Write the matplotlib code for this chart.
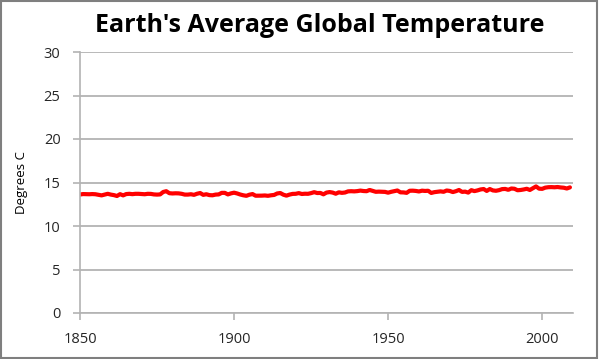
import matplotlib
matplotlib.use('Agg')
import matplotlib.pyplot as plt
from matplotlib.patches import Rectangle
import numpy as np

# annual global mean temperature, deg C, 1850-2009
years = list(range(1850, 2010))
temps = [
    13.62, 13.67, 13.66, 13.65, 13.67, 13.65, 13.59, 13.52, 13.61, 13.70,
    13.61, 13.55, 13.45, 13.66, 13.52, 13.67, 13.70, 13.66, 13.70, 13.70,
    13.68, 13.65, 13.70, 13.69, 13.63, 13.61, 13.63, 13.91, 14.00, 13.77,
    13.74, 13.76, 13.75, 13.70, 13.61, 13.61, 13.65, 13.58, 13.71, 13.79,
    13.58, 13.65, 13.55, 13.53, 13.61, 13.63, 13.81, 13.81, 13.63, 13.75,
    13.83, 13.74, 13.62, 13.53, 13.47, 13.60, 13.67, 13.48, 13.48, 13.49,
    13.51, 13.47, 13.53, 13.57, 13.74, 13.79, 13.60, 13.49, 13.61, 13.69,
    13.70, 13.78, 13.68, 13.71, 13.70, 13.78, 13.89, 13.79, 13.80, 13.64,
    13.84, 13.90, 13.84, 13.71, 13.87, 13.81, 13.85, 13.98, 14.00, 13.98,
    14.01, 14.07, 14.02, 14.00, 14.14, 14.03, 13.93, 13.95, 13.94, 13.92,
    13.83, 13.93, 14.01, 14.08, 13.87, 13.86, 13.81, 14.05, 14.06, 14.03,
    13.97, 14.06, 14.03, 14.05, 13.80, 13.89, 13.94, 13.98, 13.93, 14.08,
    14.03, 13.90, 14.00, 14.14, 13.92, 13.95, 13.84, 14.12, 14.01, 14.09,
    14.20, 14.25, 14.03, 14.25, 14.09, 14.05, 14.12, 14.24, 14.26, 14.16,
    14.31, 14.28, 14.11, 14.14, 14.20, 14.28, 14.14, 14.35, 14.55, 14.29,
    14.27, 14.41, 14.46, 14.47, 14.45, 14.48, 14.43, 14.40, 14.31, 14.44,
]

title = "Earth's Average Global Temperature"
y_label = 'Degrees C'
x_ticks = [1850, 1900, 1950, 2000]
y_ticks = [0, 5, 10, 15, 20, 25, 30]

grid_col = '#b3b3b3'
text_col = '#262626'

plt.rcParams['font.family'] = ['Open Sans', 'DejaVu Sans']

fig = plt.figure(figsize=(6, 3.59), dpi=100)
ax = fig.add_axes([80 / 600, 46 / 359, 493 / 600, 261 / 359])

ax.plot(years, temps, color='#ff0000', linewidth=3, solid_capstyle='round')

# osie
ax.set_xlim(1850, 2010)
ax.set_ylim(0, 30)
ax.set_xticks(x_ticks)
ax.set_yticks(y_ticks)
ax.tick_params(axis='both', direction='out', length=5, width=1.2, color=grid_col,
               labelsize=10.5, labelcolor=text_col)
ax.tick_params(axis='y', pad=9)
ax.tick_params(axis='x', pad=9)

for s in ['top', 'right']:
    ax.spines[s].set_visible(False)
for s in ['left', 'bottom']:
    ax.spines[s].set_color(grid_col)
    ax.spines[s].set_linewidth(1.2)

# siatka
ax.yaxis.grid(True, color=grid_col, linewidth=1.3)
ax.set_axisbelow(True)

ax.set_ylabel(y_label, fontsize=9.5, color='black', labelpad=11)

fig.text(0.533, 1 - 26 / 359, title, ha='center', va='center',
         fontsize=18, fontweight='bold', color='black')

# ramka
fig.patches.append(Rectangle((0.002, 0.004), 0.993, 0.992, transform=fig.transFigure,
                             fill=False, edgecolor='#7f7f7f', linewidth=1.5))

fig.savefig('out.png', dpi=100)
